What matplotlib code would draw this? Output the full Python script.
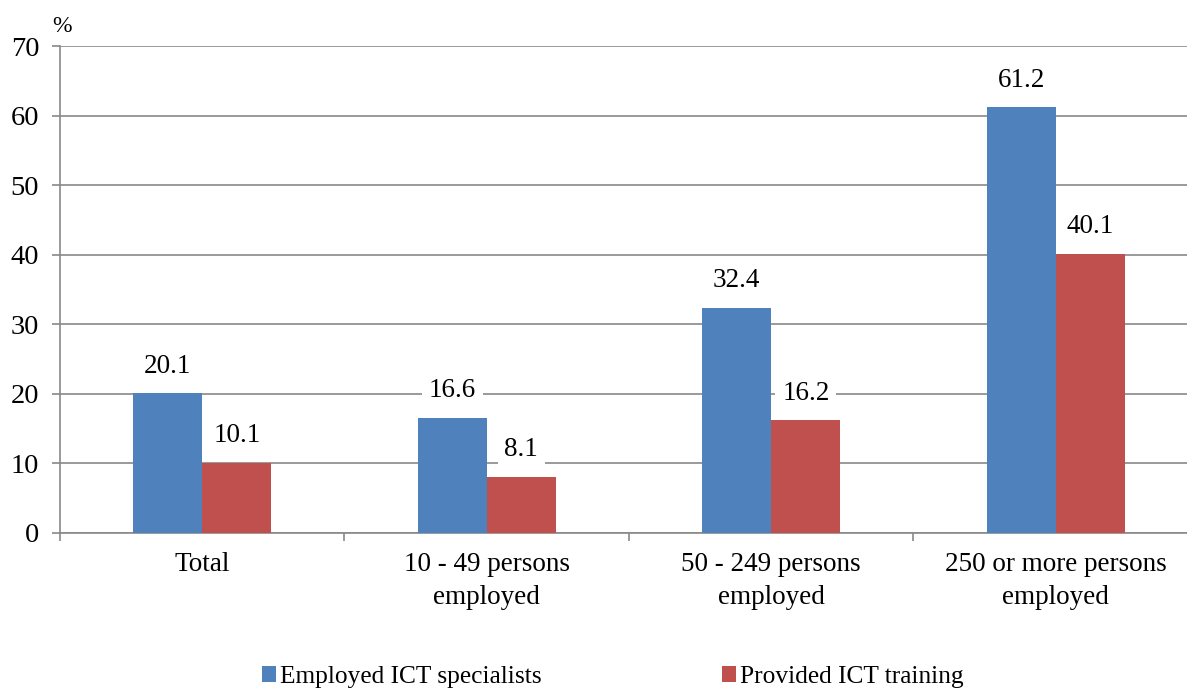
import matplotlib
matplotlib.use("Agg")
import matplotlib.pyplot as plt
import numpy as np
from matplotlib.patches import Patch

plt.rcParams['font.family'] = ['Liberation Serif', 'DejaVu Serif']

categories = ["Total", "10 - 49 persons\nemployed", "50 - 249 persons\nemployed", "250 or more persons\nemployed"]
series_names = ["Employed ICT specialists", "Provided ICT training"]
specialists = [20.1, 16.6, 32.4, 61.2]
training = [10.1, 8.1, 16.2, 40.1]
colors = ["#4F81BD", "#C0504D"]

fig = plt.figure(figsize=(11.87, 6.89), dpi=100)
ax = fig.add_axes([60/1187, 156/689, 1138/1187, 487/689])

x = np.arange(len(categories))
w = 0.243
gray = "#898989"
fs = 19.5

for vals, off, c in [(specialists, -w/2, colors[0]), (training, w/2, colors[1])]:
    ax.bar(x + off, vals, width=w, color=c, zorder=3)
    for xi, v in zip(x + off, vals):
        ax.annotate(f"{v:.1f}", (xi, v), xytext=(0, 19.5), textcoords="offset points",
                    ha="center", va="center", fontsize=fs, zorder=4,
                    bbox=dict(boxstyle="square,pad=0.25", fc="white", ec="none"))

ax.set_xlim(-0.5, 3.5)
ax.set_ylim(0, 70)
ax.set_yticks(range(0, 71, 10))
ax.yaxis.grid(True, color=gray, linewidth=1.2, zorder=0)
ax.set_axisbelow(True)
ax.set_xticks(x)
ax.set_xticklabels(categories, fontsize=fs, linespacing=1.4)
ax.tick_params(axis='x', length=0, pad=14)
ax.set_xticks(np.arange(-0.5, 4.0, 1.0), minor=True)
ax.tick_params(axis='x', which='minor', length=6, color=gray, width=1.2)
ax.tick_params(axis='y', labelsize=20.5, length=6, color=gray, width=1.2, pad=9)
for s in ['top', 'right']:
    ax.spines[s].set_visible(False)
for s in ['left', 'bottom']:
    ax.spines[s].set_color(gray)
    ax.spines[s].set_linewidth(1.2)

fig.text(52/1187, 1 - 27/689, "%", fontsize=17, ha="left", va="center")

for name, c, xpos in zip(series_names, colors, [262/1187, 722/1187]):
    leg = fig.legend([Patch(facecolor=c)], [name], loc="center left",
                     bbox_to_anchor=(xpos, 1 - 677/689), frameon=False, fontsize=18.3,
                     handlelength=0.55, handleheight=0.55, handletextpad=0.15,
                     borderpad=0, borderaxespad=0)

fig.savefig("out.png", dpi=100)
